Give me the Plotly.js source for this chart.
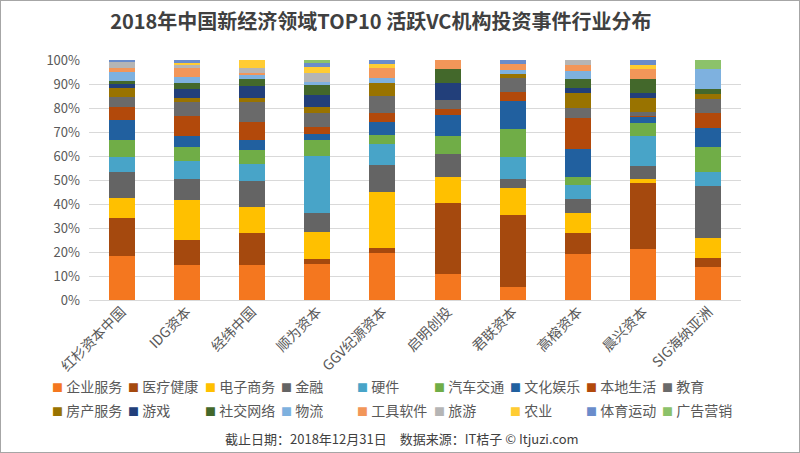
<!DOCTYPE html>
<html>
<head>
<meta charset="utf-8">
<script src="https://cdn.plot.ly/plotly-3.0.1.min.js"></script>
<style>
html,body{margin:0;padding:0;background:#fff;}
#chart{width:800px;height:453px;}
#frame{position:absolute;left:0;top:0;width:798px;height:451px;border:1px solid #a6a6a6;pointer-events:none;}
</style>
</head>
<body>
<div id="chart"></div>
<div id="frame"></div>
<script>
// Categories (investors)
const categories = ['红杉资本中国','IDG资本','经纬中国','顺为资本','GGV纪源资本','启明创投','君联资本','高榕资本','晨兴资本','SIG海纳亚洲'];

// Series names (industries), bottom to top
const seriesNames = ['企业服务','医疗健康','电子商务','金融','硬件','汽车交通','文化娱乐','本地生活','教育','房产服务','游戏','社交网络','物流','工具软件','旅游','农业','体育运动','广告营销'];

// Share of investment events (%) per investor
const qiyeFuwu     = [18.3, 14.6, 14.4, 14.9, 19.7, 10.7,  5.3, 19.0, 21.4, 13.8];
const yiliaoJiankang = [15.7, 10.3, 13.6,  2.2,  1.8, 29.6, 30.1,  9.0, 27.5,  3.6];
const dianziShangwu = [ 8.6, 16.8, 10.8, 11.4, 23.6, 11.1, 11.4,  8.3,  1.7,  8.3];
const jinrong      = [10.8,  8.6, 10.7,  7.9, 11.1,  9.3,  3.6,  5.6,  5.6, 21.8];
const yingjian     = [ 6.2,  7.6,  6.9, 23.6,  9.0,  0.0,  9.3,  6.2, 12.5,  6.0];
const qicheJiaotong = [ 6.9,  6.0,  6.0,  6.7,  3.5,  7.6, 11.5,  3.2,  5.7, 10.3];
const wenhuaYule   = [ 8.3,  4.4,  4.2,  2.5,  5.6,  8.8, 11.7, 11.7,  2.4,  8.1];
const bendiShenghuo = [ 5.6,  8.3,  7.6,  2.8,  3.8,  2.4,  3.6, 12.9,  0.5,  6.0];
const jiaoyu       = [ 4.2,  6.0,  8.3,  5.8,  7.1,  3.9,  5.8,  4.2,  1.4,  5.8];
const fangchanFuwu = [ 3.8,  1.7,  1.7,  2.8,  5.4,  0.0,  1.8,  6.2,  6.0,  2.4];
const youxi        = [ 1.8,  3.5,  4.6,  5.1,  0.0,  7.2,  0.0,  2.1,  2.1,  0.0];
const shejiaoWangluo = [ 1.0,  2.8,  3.2,  3.9,  0.0,  5.6,  0.0,  3.8,  5.8,  1.8];
const wuliu        = [ 3.9,  2.5,  1.7,  1.4,  2.1,  0.0,  1.8,  3.2,  0.0,  8.3];
const gongjuRuanjian = [ 1.7,  3.8,  0.5,  0.0,  3.9,  3.9,  2.4,  2.5,  4.2,  0.0];
const lvyou        = [ 2.5,  1.0,  2.4,  3.8,  0.0,  0.0,  0.0,  2.1,  0.0,  0.0];
const nongye       = [ 0.0,  0.8,  3.2,  2.5,  1.8,  0.0,  0.0,  0.0,  1.8,  0.0];
const tiyuYundong  = [ 0.7,  1.4,  0.0,  1.4,  1.7,  0.0,  1.7,  0.0,  2.1,  0.0];
const guanggaoYingxiao = [ 0.0,  0.0,  0.0,  1.4,  0.0,  0.0,  0.0,  0.0,  0.0,  3.9];

const seriesValues = [qiyeFuwu, yiliaoJiankang, dianziShangwu, jinrong, yingjian, qicheJiaotong, wenhuaYule, bendiShenghuo, jiaoyu, fangchanFuwu, youxi, shejiaoWangluo, wuliu, gongjuRuanjian, lvyou, nongye, tiyuYundong, guanggaoYingxiao];

const colors = ['#F4771F','#A5490E','#FFC000','#646464','#48A4C8','#70AD47','#21609F','#B2490B','#6A6A6A','#997300','#223F7A','#43682B','#7EB1DF','#F29659','#B5B5B5','#FFCC33','#6A8CCB','#8CC26A'];

const yTickVals = [0,10,20,30,40,50,60,70,80,90,100];
const yTickText = ['0%','10%','20%','30%','40%','50%','60%','70%','80%','90%','100%'];

const FONT = '"Noto Sans CJK SC", "Noto Sans", sans-serif';

const traces = seriesNames.map((name, i) => ({
  type: 'bar',
  name: name,
  x: categories,
  y: seriesValues[i],
  marker: {color: colors[i], line: {width: 0}},
  hoverinfo: 'x+name+y'
}));

// layout geometry (pixels)
const W = 800, H = 453;
const mL = 89, mR = 59, mT = 60, mB = 153;
const pw = W - mL - mR, ph = H - mT - mB;
const px2x = px => (px - mL) / pw;
const py2y = py => (H - mB - py) / ph;

const annotations = seriesNames.map((name, i) => {
  const col = i % 9, row = Math.floor(i / 9);
  return {
    xref: 'paper', yref: 'paper',
    x: px2x(50 + 76.3 * col), y: py2y(386 + 24 * row),
    xanchor: 'left', yanchor: 'middle', showarrow: false,
    text: '<span style="color:' + colors[i] + ';font-size:11px">■</span> ' + name,
    font: {family: FONT, size: 14, color: '#595959'}
  };
});
annotations.push({
  xref: 'paper', yref: 'paper',
  x: px2x(402), y: py2y(438),
  xanchor: 'center', yanchor: 'middle', showarrow: false,
  text: '截止日期：2018年12月31日　数据来源：IT桔子 © Itjuzi.com',
  font: {family: FONT, size: 13, color: '#404040'}
});

const layout = {
  width: W, height: H,
  margin: {l: mL, r: mR, t: mT, b: mB, pad: 0},
  paper_bgcolor: '#ffffff', plot_bgcolor: '#ffffff',
  barmode: 'stack', barnorm: 'percent', bargap: 0.6,
  showlegend: false,
  font: {family: FONT, color: '#595959'},
  title: {
    text: '2018年中国新经济领域TOP10 活跃VC机构投资事件行业分布',
    xref: 'container', yref: 'container', x: 0.476, y: 1 - 22 / H,
    xanchor: 'center', yanchor: 'middle',
    font: {family: FONT, size: 20, color: '#404040', weight: 'bold'}
  },
  xaxis: {
    type: 'category', tickangle: -45, showgrid: false, showline: false, zeroline: false,
    ticks: '', tickfont: {family: FONT, size: 14, color: '#595959'}, automargin: false
  },
  yaxis: {
    range: [0, 100], tickvals: yTickVals, ticktext: yTickText,
    showgrid: true, gridcolor: '#d9d9d9', gridwidth: 1, zeroline: true, zerolinecolor: '#d9d9d9',
    showline: false, ticks: '', ticklabelstandoff: 8,
    tickfont: {family: FONT, size: 13, color: '#595959'}, automargin: false
  },
  annotations: annotations
};

Plotly.newPlot('chart', traces, layout, {displayModeBar: false, staticPlot: true});
</script>
</body>
</html>
